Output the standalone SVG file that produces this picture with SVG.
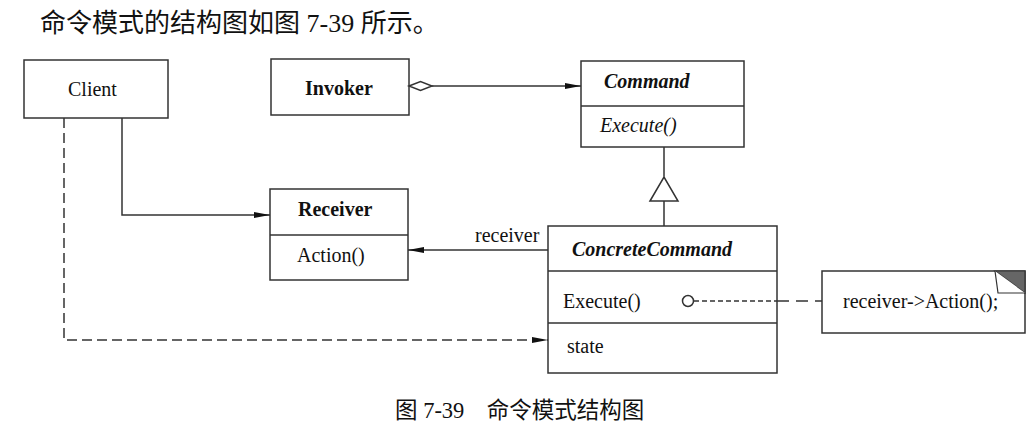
<svg xmlns="http://www.w3.org/2000/svg" width="1036" height="425" viewBox="0 0 1036 425">
<style>
.box{fill:#fff;stroke:#333;stroke-width:1.5}
.ln{fill:none;stroke:#333;stroke-width:1.5}
.t{font-family:"Liberation Serif","Noto Sans CJK SC",serif;font-size:20px;fill:#111}
.b{font-weight:bold}
.i{font-style:italic}
.cjk{font-family:"Liberation Serif","Noto Sans CJK SC",serif;fill:#111}
</style>
<defs>
<marker id="arr" markerWidth="16" markerHeight="8" refX="16" refY="4" orient="auto" markerUnits="userSpaceOnUse">
<path d="M0,1 L16,4 L0,7 Z" fill="#111"/>
</marker>
</defs>
<rect width="1036" height="425" fill="#fff"/>
<text class="cjk" x="40" y="32" font-size="26">命令模式的结构图如图 7-39 所示。</text>

<g id="client">
<rect class="box" x="24" y="60" width="144" height="58"/>
<text class="t" x="68" y="96">Client</text>
</g>

<g id="invoker">
<rect class="box" x="271" y="59" width="138" height="56"/>
<text class="t b" x="305" y="95">Invoker</text>
</g>

<g id="command">
<rect class="box" x="581" y="61" width="163" height="86"/>
<path class="ln" d="M581,106 H744"/>
<text class="t b i" x="604" y="88">Command</text>
<text class="t i" x="600" y="132">Execute()</text>
</g>

<g id="receiver">
<rect class="box" x="270" y="189" width="138" height="91"/>
<path class="ln" d="M270,235 H408"/>
<text class="t b" x="298" y="216">Receiver</text>
<text class="t" x="297" y="262">Action()</text>
</g>

<g id="concretecommand">
<rect class="box" x="548" y="226" width="229" height="147"/>
<path class="ln" d="M548,271 H777 M548,323 H777"/>
<text class="t b i" x="572" y="256">ConcreteCommand</text>
<text class="t" x="563" y="308">Execute()</text>
<text class="t" x="567" y="353">state</text>
</g>

<g id="note">
<rect class="box" x="822" y="271" width="203" height="62"/>
<path d="M995,271 L1025,271 L1025,293 Z" fill="#666" stroke="#333" stroke-width="1.2"/>
<path d="M995,271 L998,293 L1025,293" fill="#fff" stroke="#333" stroke-width="1.2"/>
<text class="t" x="843" y="308">receiver-&gt;Action();</text>
</g>

<g id="connectors">
<path class="ln" d="M122,118 V215 H270" marker-end="url(#arr)"/>
<path class="ln" d="M64,118 V340 H548" stroke-dasharray="10,5" marker-end="url(#arr)"/>
<path class="ln" d="M409,86 L420.5,81.5 L432,86 L420.5,90.5 Z"/>
<path class="ln" d="M432,86 H581" marker-end="url(#arr)"/>
<path class="ln" d="M664,147 V177 M650,201 L664,177 L678,201 Z M664,201 V226"/>
<path class="ln" d="M548,250 H408" marker-end="url(#arr)"/>
<text class="t" x="475" y="242">receiver</text>
<circle class="ln" cx="688" cy="301" r="5.5"/>
<path class="ln" d="M694,301 H777" stroke-dasharray="5,3"/>
<path class="ln" d="M777,301 H822" stroke-dasharray="12,7"/>
</g>

<text class="cjk" x="395" y="418" font-size="22.5">图 7-39　命令模式结构图</text>
</svg>
